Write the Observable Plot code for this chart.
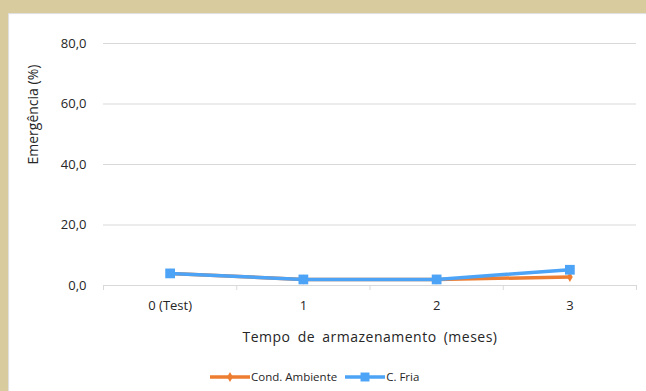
<!DOCTYPE html>
<html><head><meta charset="utf-8">
<script src="https://cdn.jsdelivr.net/npm/d3@7"></script>
<script src="https://cdn.jsdelivr.net/npm/@observablehq/plot@0.6"></script>
<style>
html,body{margin:0;padding:0;}
body{width:646px;height:391px;background:#D8CC9E;overflow:hidden;font-family:"Open Sans",Arial,sans-serif;position:relative;}
#panel{position:absolute;left:8px;top:13px;width:638px;height:378px;background:#fff;box-shadow:inset 1px 1px 1px #ddd;}
#legend{position:absolute;left:202px;top:356px;display:flex;align-items:center;font-size:11.5px;color:#262626;white-space:nowrap;font-family:"Open Sans",Arial,sans-serif;}
#legend .item{display:flex;align-items:center;margin-right:8px;}
#legend svg{display:block;margin-right:1px;}
</style></head><body><div id="panel"></div>
<script>
const categories = ["0 (Test)", "1", "2", "3"];
const ambiente = [4.0, 2.0, 2.0, 2.8];
const fria = [4.0, 2.0, 2.0, 5.2];
const yTicks = [0, 20, 40, 60, 80];
const seriesNames = ["Cond. Ambiente", "C. Fria"];
const seriesColors = ["#ED7D31", "#4DA3F6"];
const seriesSymbols = ["diamond", "square"];
const xTitle = "Tempo de armazenamento (meses)";
const yTitle = "Emergência (%)";

const n = categories.length;
const rowsAmb = categories.map((c, i) => ({i, v: ambiente[i]}));
const rowsFria = categories.map((c, i) => ({i, v: fria[i]}));
const boundaries = d3.range(n + 1).map(i => i - 0.5);
const font = "'Open Sans', Arial, sans-serif";
const ink = "#262626";

const chart = Plot.plot({
  width: 638,
  height: 345,
  marginLeft: 95,
  marginRight: 10,
  marginTop: 30,
  marginBottom: 73,
  style: {fontFamily: font, fontSize: "13px", color: ink, background: "transparent"},
  x: {domain: [-0.5, n - 0.5]},
  y: {domain: [0, 80]},
  marks: [
    Plot.gridY(yTicks.slice(1), {stroke: "#d9d9d9", strokeOpacity: 1, strokeWidth: 1}),
    Plot.ruleY([0], {stroke: "#d9d9d9", strokeWidth: 1}),
    Plot.axisX(boundaries, {tickSize: 5, stroke: "#d9d9d9", strokeOpacity: 1, tickFormat: () => "", label: null}),
    Plot.axisX(d3.range(n), {tickSize: 0, tickPadding: 15, tickFormat: i => categories[i], label: null, fontSize: 13, fill: ink}),
    Plot.axisY(yTicks, {tickSize: 0, tickPadding: 17, tickFormat: d => d.toFixed(1).replace(".", ","), label: null, fontSize: 13, fill: ink}),
    Plot.text([xTitle], {frameAnchor: "bottom", dy: 56, fontSize: 14, fill: ink}),
    Plot.text([yTitle], {frameAnchor: "left", rotate: -90, dx: -70, fontSize: 14, fill: ink}),
    Plot.line(rowsAmb, {x: "i", y: "v", stroke: seriesColors[0], strokeWidth: 3.5}),
    Plot.dot(rowsAmb, {x: "i", y: "v", symbol: seriesSymbols[0], fill: seriesColors[0], r: 3}),
    Plot.line(rowsFria, {x: "i", y: "v", stroke: seriesColors[1], strokeWidth: 3.5}),
    Plot.dot(rowsFria, {x: "i", y: "v", symbol: seriesSymbols[1], fill: seriesColors[1], r: 5.5})
  ]
});
d3.select(chart).selectAll("text")
  .filter(function() { return this.textContent === xTitle; })
  .style("letter-spacing", "0.5px").style("word-spacing", "3px");

const panel = document.getElementById("panel");
panel.appendChild(chart);

const legend = document.createElement("div");
legend.id = "legend";
seriesNames.forEach((name, k) => {
  const item = document.createElement("div");
  item.className = "item";
  const sw = d3.create("svg").attr("width", 40).attr("height", 12);
  sw.append("line").attr("x1", 0).attr("x2", 40).attr("y1", 6).attr("y2", 6)
    .attr("stroke", seriesColors[k]).attr("stroke-width", 3.5);
  sw.append("path").attr("transform", "translate(20,6)")
    .attr("d", d3.symbol(k === 0 ? d3.symbolDiamond : d3.symbolSquare, k === 0 ? 30 : 80)())
    .attr("fill", seriesColors[k]);
  item.appendChild(sw.node());
  const t = document.createElement("span");
  t.textContent = name;
  item.appendChild(t);
  legend.appendChild(item);
});
panel.appendChild(legend);
</script>
</body></html>
